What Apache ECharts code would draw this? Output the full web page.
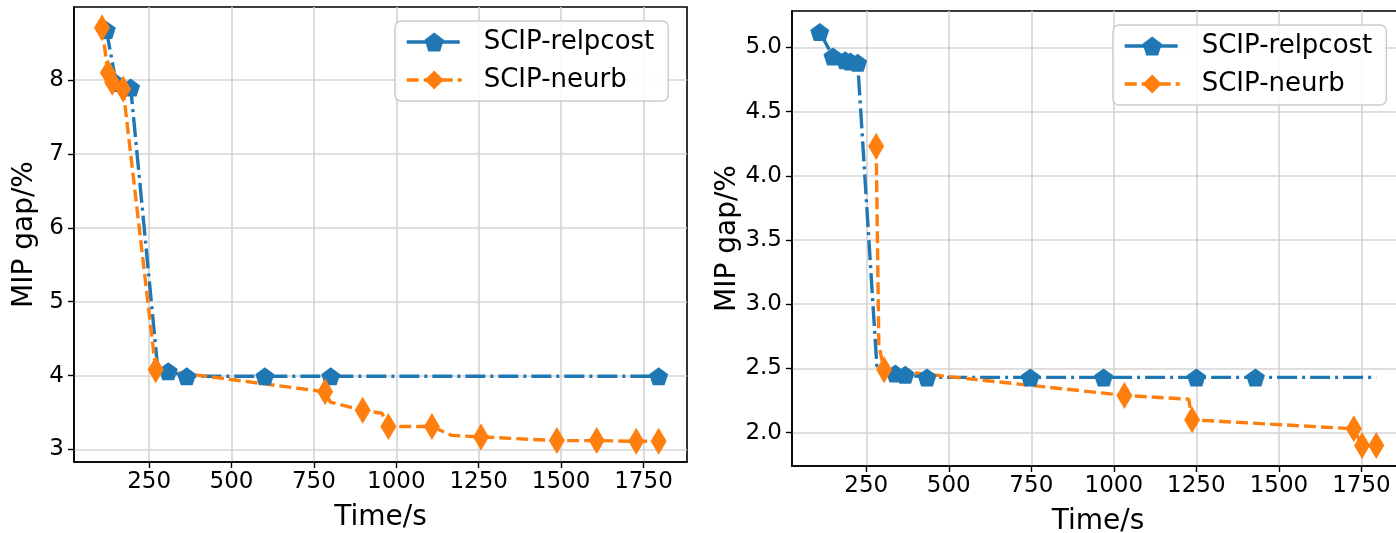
<!DOCTYPE html>
<html>
<head>
<meta charset="utf-8">
<script src="https://cdn.jsdelivr.net/npm/echarts@6/dist/echarts.min.js"></script>
<style>
html,body{margin:0;padding:0;background:#fff;}
#chart{width:1396px;height:533px;}
</style>
</head>
<body>
<div id="chart"></div>
<script>
// ---- data ----
const seriesNames = ['SCIP-relpcost', 'SCIP-neurb'];
const xTicks = [250, 500, 750, 1000, 1250, 1500, 1750];
const leftYTicks = [3, 4, 5, 6, 7, 8];
const rightYTicks = [2.0, 2.5, 3.0, 3.5, 4.0, 4.5, 5.0];

// left panel, relpcost: logged points (markers) and unmarked bends of the line
const leftRelpcostX = [120, 150, 194, 308, 364, 601, 801, 1796];
const leftRelpcostY = [8.68, 7.96, 7.90, 4.06, 3.99, 3.99, 3.99, 3.99];
const leftRelpcostBendX = [276];
const leftRelpcostBendY = [4.10];

// left panel, neurb
const leftNeurbX = [107, 125, 138, 171, 270, 784, 898, 976, 1108, 1257, 1487, 1608, 1728, 1796];
const leftNeurbY = [8.71, 8.10, 7.97, 7.88, 4.08, 3.78, 3.53, 3.31, 3.31, 3.17, 3.12, 3.12, 3.11, 3.11];
const leftNeurbBendX = [800, 956, 1168];
const leftNeurbBendY = [3.64, 3.49, 3.19];

// right panel, relpcost
const rightRelpcostX = [109, 149, 186, 202, 224, 338, 368, 434, 747, 969, 1250, 1429];
const rightRelpcostY = [5.12, 4.93, 4.90, 4.89, 4.88, 2.46, 2.45, 2.43, 2.43, 2.43, 2.43, 2.43];
const rightRelpcostBendX = [282, 1795];
const rightRelpcostBendY = [2.52, 2.43];

// right panel, neurb
const rightNeurbX = [280, 304, 1032, 1237, 1727, 1752, 1795];
const rightNeurbY = [4.23, 2.49, 2.29, 2.10, 2.03, 1.90, 1.90];
const rightNeurbBendX = [288, 1227];
const rightNeurbBendY = [2.68, 2.26];

// ---- build ----
function buildLine(mx, my, bx, by) {
  const pts = [];
  mx.forEach((x, i) => pts.push({ value: [x, my[i]] }));
  bx.forEach((x, i) => pts.push({ value: [x, by[i]], symbol: 'none' }));
  pts.sort((a, b) => a.value[0] - b.value[0]);
  return pts;
}

const FONT = 'DejaVu Sans';
const BLUE = '#1f77b4';
const ORANGE = '#ff7f0e';
const PENTAGON = 'path://M0,-1L0.951,-0.309L0.588,0.809L-0.588,0.809L-0.951,-0.309Z';
const DASHDOT = [20, 5, 3, 5];
const DASHED = [12, 5];

function xAxisCfg(gridIndex, min, max) {
  return {
    type: 'value', gridIndex, min, max,
    name: 'Time/s', nameLocation: 'middle', nameGap: 42,
    nameTextStyle: { fontFamily: FONT, fontSize: 28, color: '#000' },
    axisLine: { show: true, lineStyle: { color: '#000', width: 1.6 } },
    axisTick: { show: true, inside: false, length: 6, customValues: xTicks, lineStyle: { color: '#000', width: 1.4 } },
    axisLabel: { customValues: xTicks, fontFamily: FONT, fontSize: 23, color: '#000', margin: 9, formatter: v => String(v) },
    splitLine: { show: true, lineStyle: { color: '#d4d4d4', width: 1.6 } }
  };
}
function yAxisCfg(gridIndex, min, max, ticks, fmt, gap) {
  return {
    type: 'value', gridIndex, min, max,
    name: 'MIP gap/%', nameLocation: 'middle', nameGap: gap,
    nameTextStyle: { fontFamily: FONT, fontSize: 28, color: '#000' },
    axisLine: { show: true, lineStyle: { color: '#000', width: 1.6 } },
    axisTick: { show: true, inside: false, length: 6, customValues: ticks, lineStyle: { color: '#000', width: 1.4 } },
    axisLabel: { customValues: ticks, fontFamily: FONT, fontSize: 23, color: '#000', margin: 10, formatter: fmt },
    splitLine: { show: true, lineStyle: { color: '#d4d4d4', width: 1.6 } }
  };
}
function lineSeries(name, xi, data, color, dash, symbol, size) {
  return {
    name, type: 'line', xAxisIndex: xi, yAxisIndex: xi, data,
    symbol, symbolSize: size, showAllSymbol: true,
    lineStyle: { color, width: 3.4, type: dash },
    itemStyle: { color, borderWidth: 0 },
    animation: false, silent: true
  };
}
function legendCfg(left, top) {
  return {
    left, top, orient: 'vertical',
    data: seriesNames,
    itemWidth: 55, itemHeight: 24, itemGap: 12,
    padding: [8, 14, 8, 10],
    backgroundColor: 'rgba(255,255,255,0.85)',
    borderColor: '#cccccc', borderWidth: 1.5, borderRadius: 6,
    lineStyle: { width: 3.4 },
    textStyle: { fontFamily: FONT, fontSize: 26, color: '#000', padding: [0, 0, 0, 17] }
  };
}

const chart = echarts.init(document.getElementById('chart'), null, { renderer: 'canvas' });
chart.setOption({
  backgroundColor: '#fff',
  animation: false,
  grid: [
    { left: 74, top: 7, width: 613, height: 455, show: true, borderColor: '#000', borderWidth: 1.6, containLabel: false, outerBoundsMode: 'none' },
    { left: 792, top: 11, width: 612, height: 455, show: true, borderColor: '#000', borderWidth: 1.6, containLabel: false, outerBoundsMode: 'none' }
  ],
  xAxis: [xAxisCfg(0, 22, 1882), xAxisCfg(1, 25, 1879)],
  yAxis: [
    yAxisCfg(0, 2.83, 8.99, leftYTicks, v => String(v), 35),
    yAxisCfg(1, 1.74, 5.284, rightYTicks, v => v.toFixed(1), 49)
  ],
  legend: [legendCfg(395, 21), legendCfg(1113, 25)],
  series: [
    lineSeries(seriesNames[0], 0, buildLine(leftRelpcostX, leftRelpcostY, leftRelpcostBendX, leftRelpcostBendY), BLUE, DASHDOT, PENTAGON, [19, 18]),
    lineSeries(seriesNames[1], 0, buildLine(leftNeurbX, leftNeurbY, leftNeurbBendX, leftNeurbBendY), ORANGE, DASHED, 'diamond', [16, 27]),
    lineSeries(seriesNames[0], 1, buildLine(rightRelpcostX, rightRelpcostY, rightRelpcostBendX, rightRelpcostBendY), BLUE, DASHDOT, PENTAGON, [19, 18]),
    lineSeries(seriesNames[1], 1, buildLine(rightNeurbX, rightNeurbY, rightNeurbBendX, rightNeurbBendY), ORANGE, DASHED, 'diamond', [16, 27])
  ]
});
</script>
</body>
</html>
